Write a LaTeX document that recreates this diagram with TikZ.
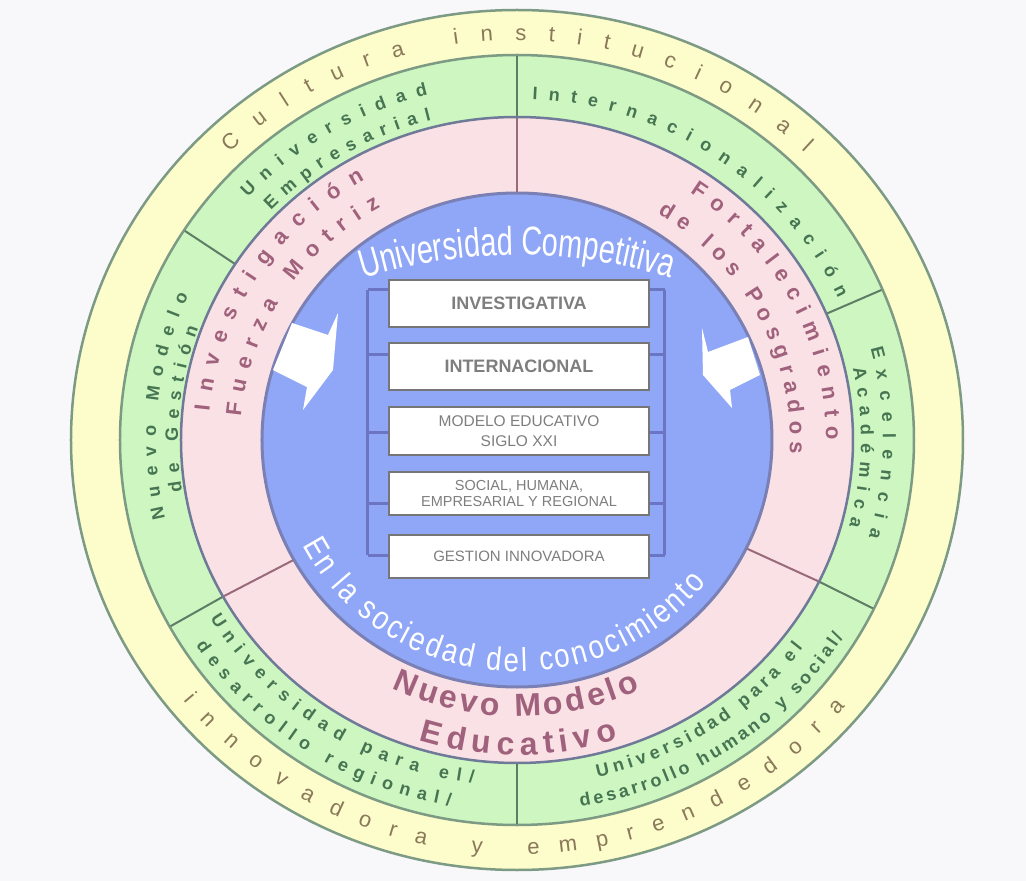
\documentclass[tikz,border=0pt]{standalone}
\usepackage{fontspec}
\setmainfont{Liberation Sans}
\newfontfamily\narrowsans[FakeStretch=0.72]{Liberation Sans}
\newfontfamily\midsans[FakeStretch=0.84]{Liberation Sans}
\usetikzlibrary{decorations.text}

\definecolor{bgcol}{HTML}{F8F8FA}
\definecolor{yellowfill}{HTML}{FDFCCB}
\definecolor{greenfill}{HTML}{CDF6C0}
\definecolor{pinkfill}{HTML}{FAE1E5}
\definecolor{bluefill}{HTML}{8FA7F6}
\definecolor{ringcol}{HTML}{7C9A84}
\definecolor{midcol}{HTML}{6E7A98}
\definecolor{bluecol}{HTML}{7A7FB4}
\definecolor{greendiv}{HTML}{5E7C66}
\definecolor{pinkdiv}{HTML}{986A7C}
\definecolor{yellowtxt}{HTML}{8A785A}
\definecolor{greentxt}{HTML}{477452}
\definecolor{pinktxt}{HTML}{A0617C}
\definecolor{boxtxt}{HTML}{7E7E7E}
\definecolor{boxline}{HTML}{767676}
\definecolor{bracketcol}{HTML}{6C74C4}

\newcommand\yellowtext{\fontsize{22}{26}\selectfont}
\newcommand\greentext{\bfseries\fontsize{18}{21}\selectfont}
\newcommand\pinktext{\bfseries\fontsize{22}{26}\selectfont}
\newcommand\bigpinktext{\bfseries\fontsize{32}{36}\selectfont}
\newcommand\titletext{\narrowsans\fontsize{40}{44}\selectfont}
\newcommand\subtitletext{\midsans\fontsize{33}{36}\selectfont}

\tikzset{
  tarc/.style n args={3}{insert path={(#1:#3 and 0.966*#3) arc[start angle=#1, end angle=#2, x radius=#3, y radius=0.966*#3]}},
  ringtext/.style 2 args={decorate, decoration={text along path, text align={fit to path}, text color=#1, text={#2}}},
  centertext/.style 2 args={decorate, decoration={text along path, text align=center, text color=#1, text={#2}}},
  tagbox/.style={draw=boxline, line width=2.5pt, fill=white, minimum width=260pt, minimum height=#1, inner sep=0pt, align=center, text=boxtxt},
  bracket/.style={draw=bracketcol, line width=3pt},
  greendivline/.style={draw=greendiv, line width=2pt},
  pinkdivline/.style={draw=pinkdiv, line width=2pt}
}

\begin{document}
\begin{tikzpicture}[x=1pt, y=1pt]
  \useasboundingbox (-517,-441) rectangle (509,440);
  \fill[bgcol] (-517,-441) rectangle (509,440);
  \draw[draw=ringcol, line width=2.5pt, fill=yellowfill] (0,0) ellipse[x radius=446, y radius=430];
  \draw[draw=ringcol, line width=2.5pt, fill=greenfill] (0,0) ellipse[x radius=397, y radius=385];
  \draw[draw=midcol, line width=2.5pt, fill=pinkfill] (0,0) ellipse[x radius=336, y radius=323];
  \draw[draw=bluecol, line width=3pt, fill=bluefill] (0,0) ellipse[x radius=255, y radius=247];
  \foreach \a in {90,209,334}
    \draw[pinkdivline] (\a:256 and 248) -- (\a:335 and 322);
  \foreach \a in {23,90,147,209,270,334}
    \draw[greendivline] (\a:337 and 324) -- (\a:396 and 384);

  \path[ringtext={yellowtxt}{|\yellowtext|Cultura institucional}, tarc={134}{46}{414}];
  \path[ringtext={yellowtxt}{|\yellowtext|innovadora y emprendedora}, tarc={219}{320}{429}];

  \path[ringtext={greentxt}{|\greentext|Universidad}, tarc={137}{104}{368}];
  \path[ringtext={greentxt}{|\greentext|Empresarial}, tarc={136}{104.5}{342}];
  \path[ringtext={greentxt}{|\greentext|Internacionalización}, tarc={87.5}{24.5}{353}];
  \path[ringtext={greentxt}{|\greentext|Nuevo Modelo}, tarc={193}{155.5}{361}];
  \path[ringtext={greentxt}{|\greentext|de Gestión}, tarc={189}{160}{339}];
  \path[ringtext={greentxt}{|\greentext|Excelencia}, tarc={15}{-16}{366}];
  \path[ringtext={greentxt}{|\greentext|Académica}, tarc={12.5}{-15}{344}];
  \path[ringtext={greentxt}{|\greentext|Universidad para el/}, tarc={211}{263}{358}];
  \path[ringtext={greentxt}{|\greentext|desarrollo regional/}, tarc={213.5}{260}{385}];
  \path[ringtext={greentxt}{|\greentext|Universidad para el}, tarc={283}{323}{358}];
  \path[ringtext={greentxt}{|\greentext|desarrollo humano y social/}, tarc={279.5}{328}{385}];

  \path[ringtext={pinktxt}{|\pinktext|Investigación}, tarc={174.5}{119.5}{309}];
  \path[ringtext={pinktxt}{|\pinktext|Fuerza Motriz}, tarc={175}{119.5}{277}];
  \path[ringtext={pinktxt}{|\pinktext|Fortalecimiento}, tarc={56}{0}{309}];
  \path[ringtext={pinktxt}{|\pinktext|de los Posgrados}, tarc={59}{-3}{273}];
  \path[ringtext={pinktxt}{|\bigpinktext|Nuevo Modelo}, tarc={244}{295.5}{286}];
  \path[ringtext={pinktxt}{|\bigpinktext|Educativo}, tarc={252.5}{288}{326}];

  \path[centertext={white}{|\titletext|Universidad Competitiva}] ([shift={(0,-335)}]108:520) arc[start angle=108, end angle=72, radius=520];
  \path[ringtext={white}{|\subtitletext|En la sociedad del conocimiento}, tarc={207}{322}{240}];

  \fill[white] (-244,70) -- (-225,117) -- (-189,105) -- (-179,127) -- (-184,70) -- (-214,30) -- (-210,53) -- cycle;
  \fill[white] (185,112) -- (191,88) -- (231,103) -- (243,65) -- (213,50) -- (215,32) -- (186,65) -- cycle;

  \node[tagbox=47pt, font=\bfseries\fontsize{18}{20}\selectfont] (investigativa) at (2,136.5) {INVESTIGATIVA};
  \node[tagbox=47pt, font=\bfseries\fontsize{18}{20}\selectfont] (internacional) at (2,73.5) {INTERNACIONAL};
  \node[tagbox=48pt, font=\fontsize{15.5}{20}\selectfont] (modelo) at (2,9) {MODELO EDUCATIVO\\SIGLO XXI};
  \node[tagbox=43pt, font=\fontsize{14.5}{16}\selectfont] (social) at (2,-53.5) {SOCIAL, HUMANA,\\EMPRESARIAL Y REGIONAL};
  \node[tagbox=43pt, font=\fontsize{15}{18}\selectfont] (gestion) at (2,-116.5) {GESTION INNOVADORA};

  \coordinate (lefttop) at (-149,150);
  \coordinate (leftbot) at (-149,-115);
  \coordinate (righttop) at (148,150);
  \coordinate (rightbot) at (148,-115);
  \draw[bracket] (lefttop) -- (leftbot);
  \draw[bracket] (righttop) -- (rightbot);
  \foreach \b/\y in {investigativa/150, internacional/85, modelo/7, social/-63, gestion/-115} {
    \draw[bracket] (\b.west |- 0,\y) -- (lefttop |- 0,\y);
    \draw[bracket] (\b.east |- 0,\y) -- (righttop |- 0,\y);
  }
\end{tikzpicture}
\end{document}
